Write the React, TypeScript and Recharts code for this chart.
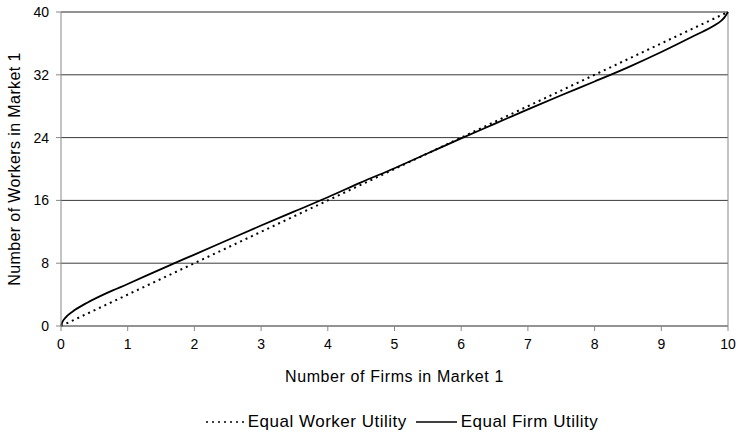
import { CartesianGrid, Line, LineChart, ReferenceLine, XAxis, YAxis } from "recharts";

const FONT = "'Liberation Sans', Arial, sans-serif";

// x = firms in market 1, y = workers in market 1
const workerX = [0, 10];
const workerY = [0, 40];

const firmX = [0, 0.02, 0.05, 0.1, 0.2, 0.4, 0.7, 1, 1.5, 2, 2.5, 3, 3.5, 4, 4.5, 5, 5.5, 6, 6.5, 7, 7.5, 8, 8.5, 9, 9.5, 9.8, 9.9, 9.95, 10];
const firmY = [0, 0.5, 0.9, 1.35, 2.0, 3.0, 4.25, 5.35, 7.25, 9.1, 10.95, 12.8, 14.6, 16.4, 18.3, 20.1, 22.0, 23.9, 25.75, 27.6, 29.4, 31.15, 32.95, 34.9, 37.0, 38.3, 38.9, 39.35, 40];

const xTicks = [0, 1, 2, 3, 4, 5, 6, 7, 8, 9, 10];
const yTicks = [0, 8, 16, 24, 32, 40];

const workerData = workerX.map((x, i) => ({ x, y: workerY[i] }));
const firmData = firmX.map((x, i) => ({ x, y: firmY[i] }));

function LegendRow() {
  return (
    <div
      style={{
        position: "absolute",
        top: 412,
        left: 0,
        width: 739,
        display: "flex",
        justifyContent: "center",
        alignItems: "center",
        paddingLeft: 64,
        boxSizing: "border-box",
        fontFamily: FONT,
        fontSize: 17,
        letterSpacing: 0.5,
        color: "#000",
      }}
    >
      <svg width={40} height={10}>
        <line x1={1} y1={5} x2={39} y2={5} stroke="#000" strokeWidth={1.5} strokeDasharray="2 4" />
      </svg>
      <span style={{ marginLeft: 3 }}>Equal Worker Utility</span>
      <svg width={42} height={10} style={{ marginLeft: 9 }}>
        <line x1={0} y1={5} x2={41} y2={5} stroke="#000" strokeWidth={1.5} />
      </svg>
      <span style={{ marginLeft: 3 }}>Equal Firm Utility</span>
    </div>
  );
}

export default function App() {
  return (
    <div style={{ position: "absolute", top: 0, left: 0, width: 739, height: 437, background: "#fff" }}>
      <LineChart width={739} height={437} margin={{ top: 12, right: 11, left: 0, bottom: 51 }}>
        <CartesianGrid vertical={false} stroke="#3a3a3a" horizontalValues={yTicks} />
        <XAxis
          dataKey="x"
          type="number"
          domain={[0, 10]}
          ticks={xTicks}
          interval={0}
          height={60}
          tickSize={5}
          tickMargin={8}
          stroke="#888"
          tick={{ fill: "#000", fontSize: 14, fontFamily: FONT }}
          label={{
            value: "Number of Firms in Market 1",
            position: "insideBottom",
            offset: 4,
            fill: "#000",
            fontSize: 16,
            fontFamily: FONT,
            style: { letterSpacing: 0.6 },
          }}
          allowDuplicatedCategory={false}
        />
        <YAxis
          dataKey="y"
          type="number"
          domain={[0, 40]}
          ticks={yTicks}
          interval={0}
          width={61}
          tickSize={5}
          tickMargin={7}
          stroke="#888"
          tick={{ fill: "#000", fontSize: 14, fontFamily: FONT }}
          label={{
            value: "Number of Workers in Market 1",
            angle: -90,
            position: "insideLeft",
            offset: 14,
            fill: "#000",
            fontSize: 16,
            fontFamily: FONT,
            style: { textAnchor: "middle", letterSpacing: 0.4 },
          }}
        />
        <ReferenceLine x={10} stroke="#888" />
        <ReferenceLine y={40} stroke="#888" />
        <Line
          data={workerData}
          dataKey="y"
          type="linear"
          stroke="#000"
          strokeWidth={2}
          strokeDasharray="2 4"
          dot={false}
          activeDot={false}
          isAnimationActive={false}
        />
        <Line
          data={firmData}
          dataKey="y"
          type="monotone"
          stroke="#000"
          strokeWidth={1.8}
          dot={false}
          activeDot={false}
          isAnimationActive={false}
        />
      </LineChart>
      <LegendRow />
    </div>
  );
}
